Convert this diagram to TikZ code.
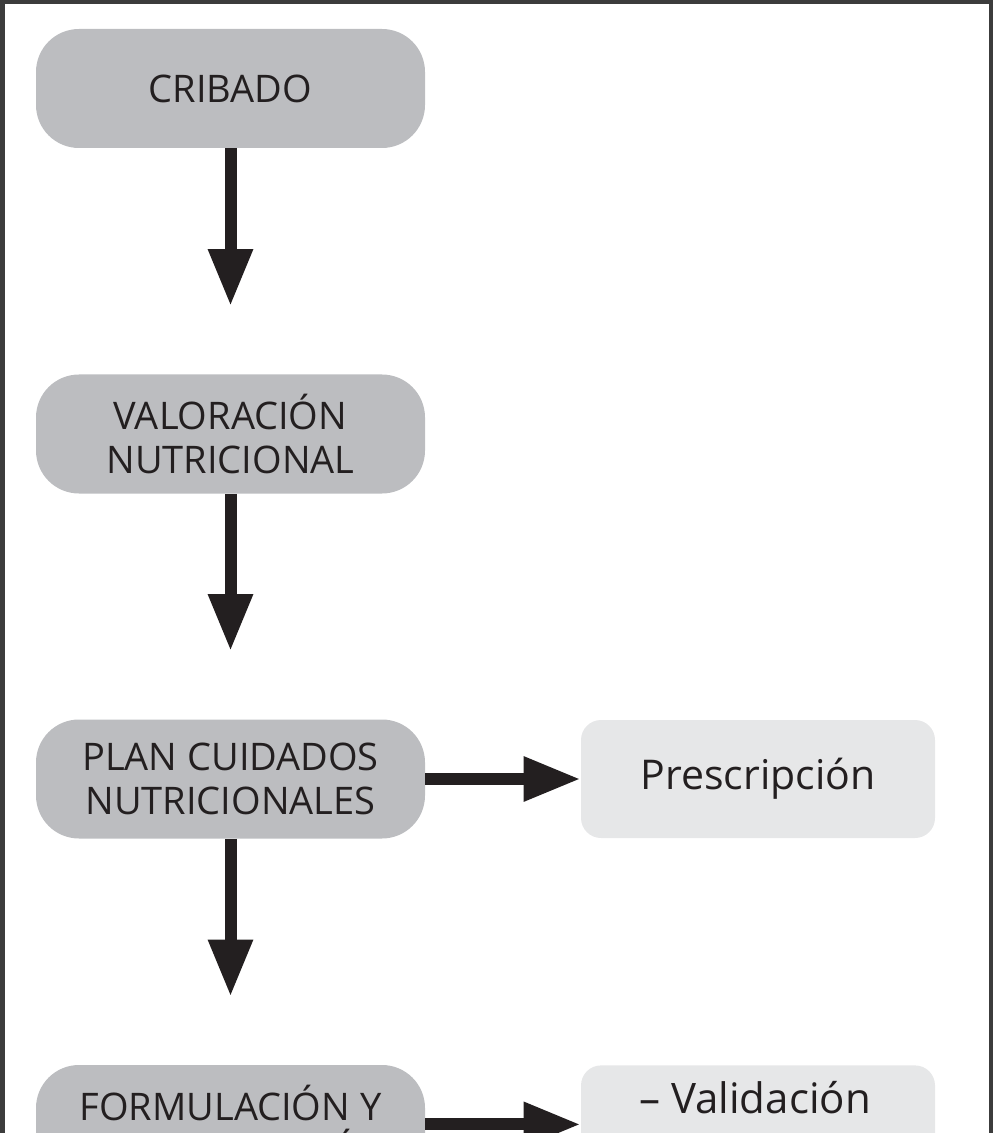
\documentclass[tikz,border=0pt]{standalone}
\usepackage{fontspec}
\setmainfont{Open Sans}
\usetikzlibrary{arrows.meta}
\definecolor{darkbox}{HTML}{BCBDC0}
\definecolor{lightbox}{HTML}{E6E7E8}
\definecolor{arrowc}{HTML}{231F20}
\definecolor{framec}{HTML}{3C3C3C}
\tikzset{
  mainbox/.style={fill=darkbox, draw=none, rounded corners=21.5pt,
    minimum width=194.5pt, minimum height=59.5pt, inner sep=0pt,
    align=center, font=\fontsize{19}{22}\selectfont, text=arrowc},
  sidebox/.style={fill=lightbox, draw=none, rounded corners=10pt,
    minimum width=177pt, minimum height=59pt, inner sep=0pt,
    align=center, font=\fontsize{20.5}{24}\selectfont, text=arrowc},
  flowarrow/.style={draw=arrowc, line width=6pt,
    -{Triangle[length=28.5pt, width=21pt]}},
}
\begin{document}
\begin{tikzpicture}[x=0.5pt, y=-0.5pt]
\useasboundingbox (0,0) rectangle (993,1133);
\clip (0,0) rectangle (993,1133);
\draw[framec, line width=2.25pt] (2.25,1300) -- (2.25,2.25) -- (990.75,2.25) -- (990.75,1300);
\node[mainbox] (crib) at (230.5,88.5) {CRIBADO};
\node[mainbox] (val) at (230.5,434) {VALORACIÓN\\NUTRICIONAL};
\node[mainbox] (plan) at (230.5,779) {PLAN CUIDADOS\\NUTRICIONALES};
\node[mainbox] (form) at (230.5,1124.5) {FORMULACIÓN Y\\ADMINISTRACIÓN};
\node[sidebox] (pres) at (758,779) {\raisebox{-1.5pt}{Prescripción}};
\node[sidebox, anchor=north] (valid) at (758,1065) {};
\node[font=\fontsize{21}{24}\selectfont, text=arrowc, anchor=base] (validt) at (755,1113) {– Validación};
\draw[flowarrow, shorten >=34pt] (crib) -- (val);
\draw[flowarrow, shorten >=34pt] (val) -- (plan);
\draw[flowarrow, shorten >=34pt] (plan) -- (form);
\draw[flowarrow] (plan) -- (pres);
\draw[flowarrow] (form.east |- valid.west) -- (valid.west);
\end{tikzpicture}
\end{document}
